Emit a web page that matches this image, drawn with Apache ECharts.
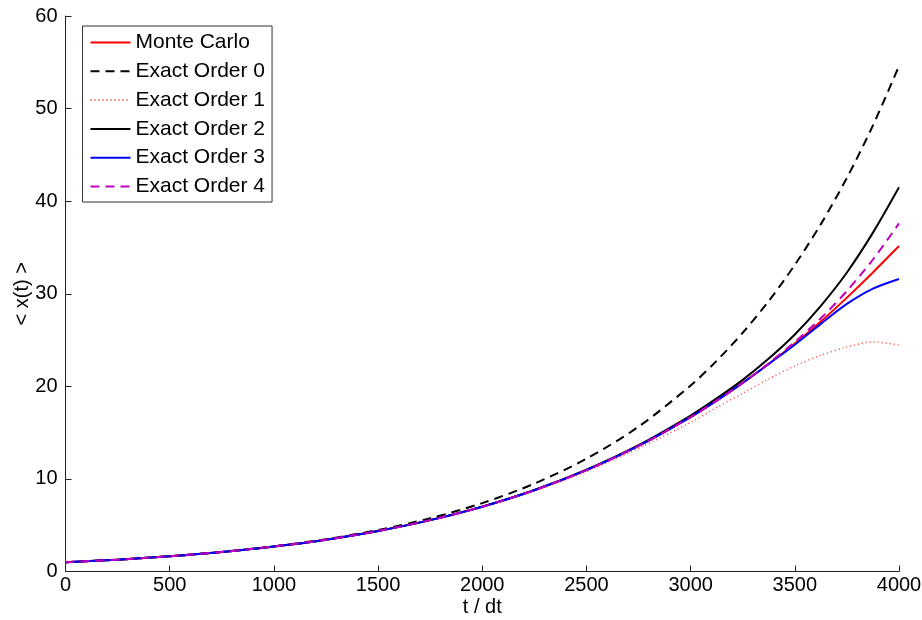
<!DOCTYPE html>
<html>
<head>
<meta charset="utf-8">
<script src="https://cdn.jsdelivr.net/npm/echarts@6/dist/echarts.min.js"></script>
<style>
html,body{margin:0;padding:0;background:#fff;}
#chart{width:922px;height:620px;}
</style>
</head>
<body>
<div id="chart"></div>
<script>
// time steps (t / dt)
var tSteps = [0,250,500,750,1000,1250,1500,1750,2000,2250,2500,2750,3000,3125,3250,3375,3500,3625,3750,3875,4000];
// series values
var monteCarlo = [1.00,1.28,1.65,2.11,2.70,3.44,4.38,5.55,7.00,8.78,10.95,13.56,16.68,18.45,20.37,22.42,24.62,27.00,29.58,32.30,35.15];
var exactOrder0 = [1.00,1.28,1.65,2.12,2.72,3.49,4.48,5.75,7.39,9.49,12.18,15.64,20.09,22.76,25.79,29.22,33.12,37.52,42.52,48.18,54.60];
var exactOrder1 = [1.00,1.28,1.65,2.11,2.70,3.44,4.37,5.53,6.96,8.70,10.80,13.30,16.10,17.70,19.25,20.80,22.20,23.35,24.25,24.80,24.45];
var exactOrder2 = [1.00,1.28,1.65,2.11,2.70,3.44,4.38,5.55,7.01,8.80,11.00,13.65,16.85,18.70,20.70,23.00,25.60,28.70,32.30,36.60,41.50];
var exactOrder3 = [1.00,1.28,1.65,2.11,2.70,3.44,4.38,5.55,7.00,8.78,10.95,13.56,16.68,18.45,20.37,22.42,24.50,26.75,28.90,30.55,31.60];
var exactOrder4 = [1.00,1.28,1.65,2.11,2.70,3.44,4.38,5.55,7.00,8.78,10.95,13.56,16.68,18.45,20.38,22.50,24.80,27.35,30.30,33.70,37.60];
var seriesNames = ['Monte Carlo','Exact Order 0','Exact Order 1','Exact Order 2','Exact Order 3','Exact Order 4'];
var xTicks = {min:0, max:4000, interval:500};
var yTicks = {min:0, max:60, interval:10};

function pairs(vals){ return tSteps.map(function(t,i){ return [t, vals[i]]; }); }

var FONT = 'Liberation Sans, Arial, Helvetica, sans-serif';
var chart = echarts.init(document.getElementById('chart'), null, {renderer:'canvas'});

var styles = [
  {color:'#ff0000', width:2, type:'solid'},
  {color:'#000000', width:2, type:[9,6]},
  {color:'#ff4040', width:1.5, type:[1,3]},
  {color:'#000000', width:2, type:'solid'},
  {color:'#0000ff', width:2, type:'solid'},
  {color:'#c000c0', width:2, type:[9,6]}
];
var allVals = [monteCarlo, exactOrder0, exactOrder1, exactOrder2, exactOrder3, exactOrder4];

var series = allVals.map(function(v,i){
  return {
    name: seriesNames[i],
    type: 'line',
    data: pairs(v),
    smooth: 0.3,
    symbol: 'none',
    showSymbol: false,
    clip: true,
    animation: false,
    color: styles[i].color,
    itemStyle: {color: styles[i].color},
    lineStyle: {color: styles[i].color, width: styles[i].width, type: styles[i].type}
  };
});

chart.setOption({
  backgroundColor: '#ffffff',
  animation: false,
  grid: {left: 65.5, right: 23, top: 16, bottom: 48.5, containLabel: false, outerBoundsMode: 'none'},
  legend: {
    show: true,
    orient: 'vertical',
    left: 82.5, top: 26,
    data: seriesNames,
    itemWidth: 40, itemHeight: 14,
    itemGap: 7.8,
    padding: [6, 7, 5, 7],
    borderColor: '#333333', borderWidth: 1,
    backgroundColor: '#ffffff',
    selectedMode: false,
    itemStyle: {opacity: 0},
    textStyle: {fontFamily: FONT, fontSize: 21, lineHeight: 20, color: '#000'},
    z: 10
  },
  xAxis: {
    type: 'value',
    min: xTicks.min, max: xTicks.max, interval: xTicks.interval,
    name: 't / dt', nameLocation: 'middle', nameGap: 26, nameMoveOverlap: false,
    nameTextStyle: {fontFamily: FONT, fontSize: 20, color: '#000'},
    axisLine: {show: true, onZero: false, lineStyle: {color: '#222', width: 1}},
    axisTick: {show: true, inside: true, length: 6, lineStyle: {color: '#222'}},
    axisLabel: {fontFamily: FONT, fontSize: 20, color: '#000', margin: 4, formatter: function(v){ return String(v); }},
    splitLine: {show: false}
  },
  yAxis: {
    type: 'value',
    min: yTicks.min, max: yTicks.max, interval: yTicks.interval,
    name: '< x(t) >', nameLocation: 'middle', nameGap: 33, nameRotate: 90, nameMoveOverlap: false,
    nameTextStyle: {fontFamily: FONT, fontSize: 20, color: '#000'},
    axisLine: {show: true, onZero: false, lineStyle: {color: '#222', width: 1}},
    axisTick: {show: true, inside: true, length: 6, lineStyle: {color: '#222'}},
    axisLabel: {fontFamily: FONT, fontSize: 20, color: '#000', margin: 8, formatter: function(v){ return String(v); }},
    splitLine: {show: false}
  },
  series: series
});
</script>
</body>
</html>
